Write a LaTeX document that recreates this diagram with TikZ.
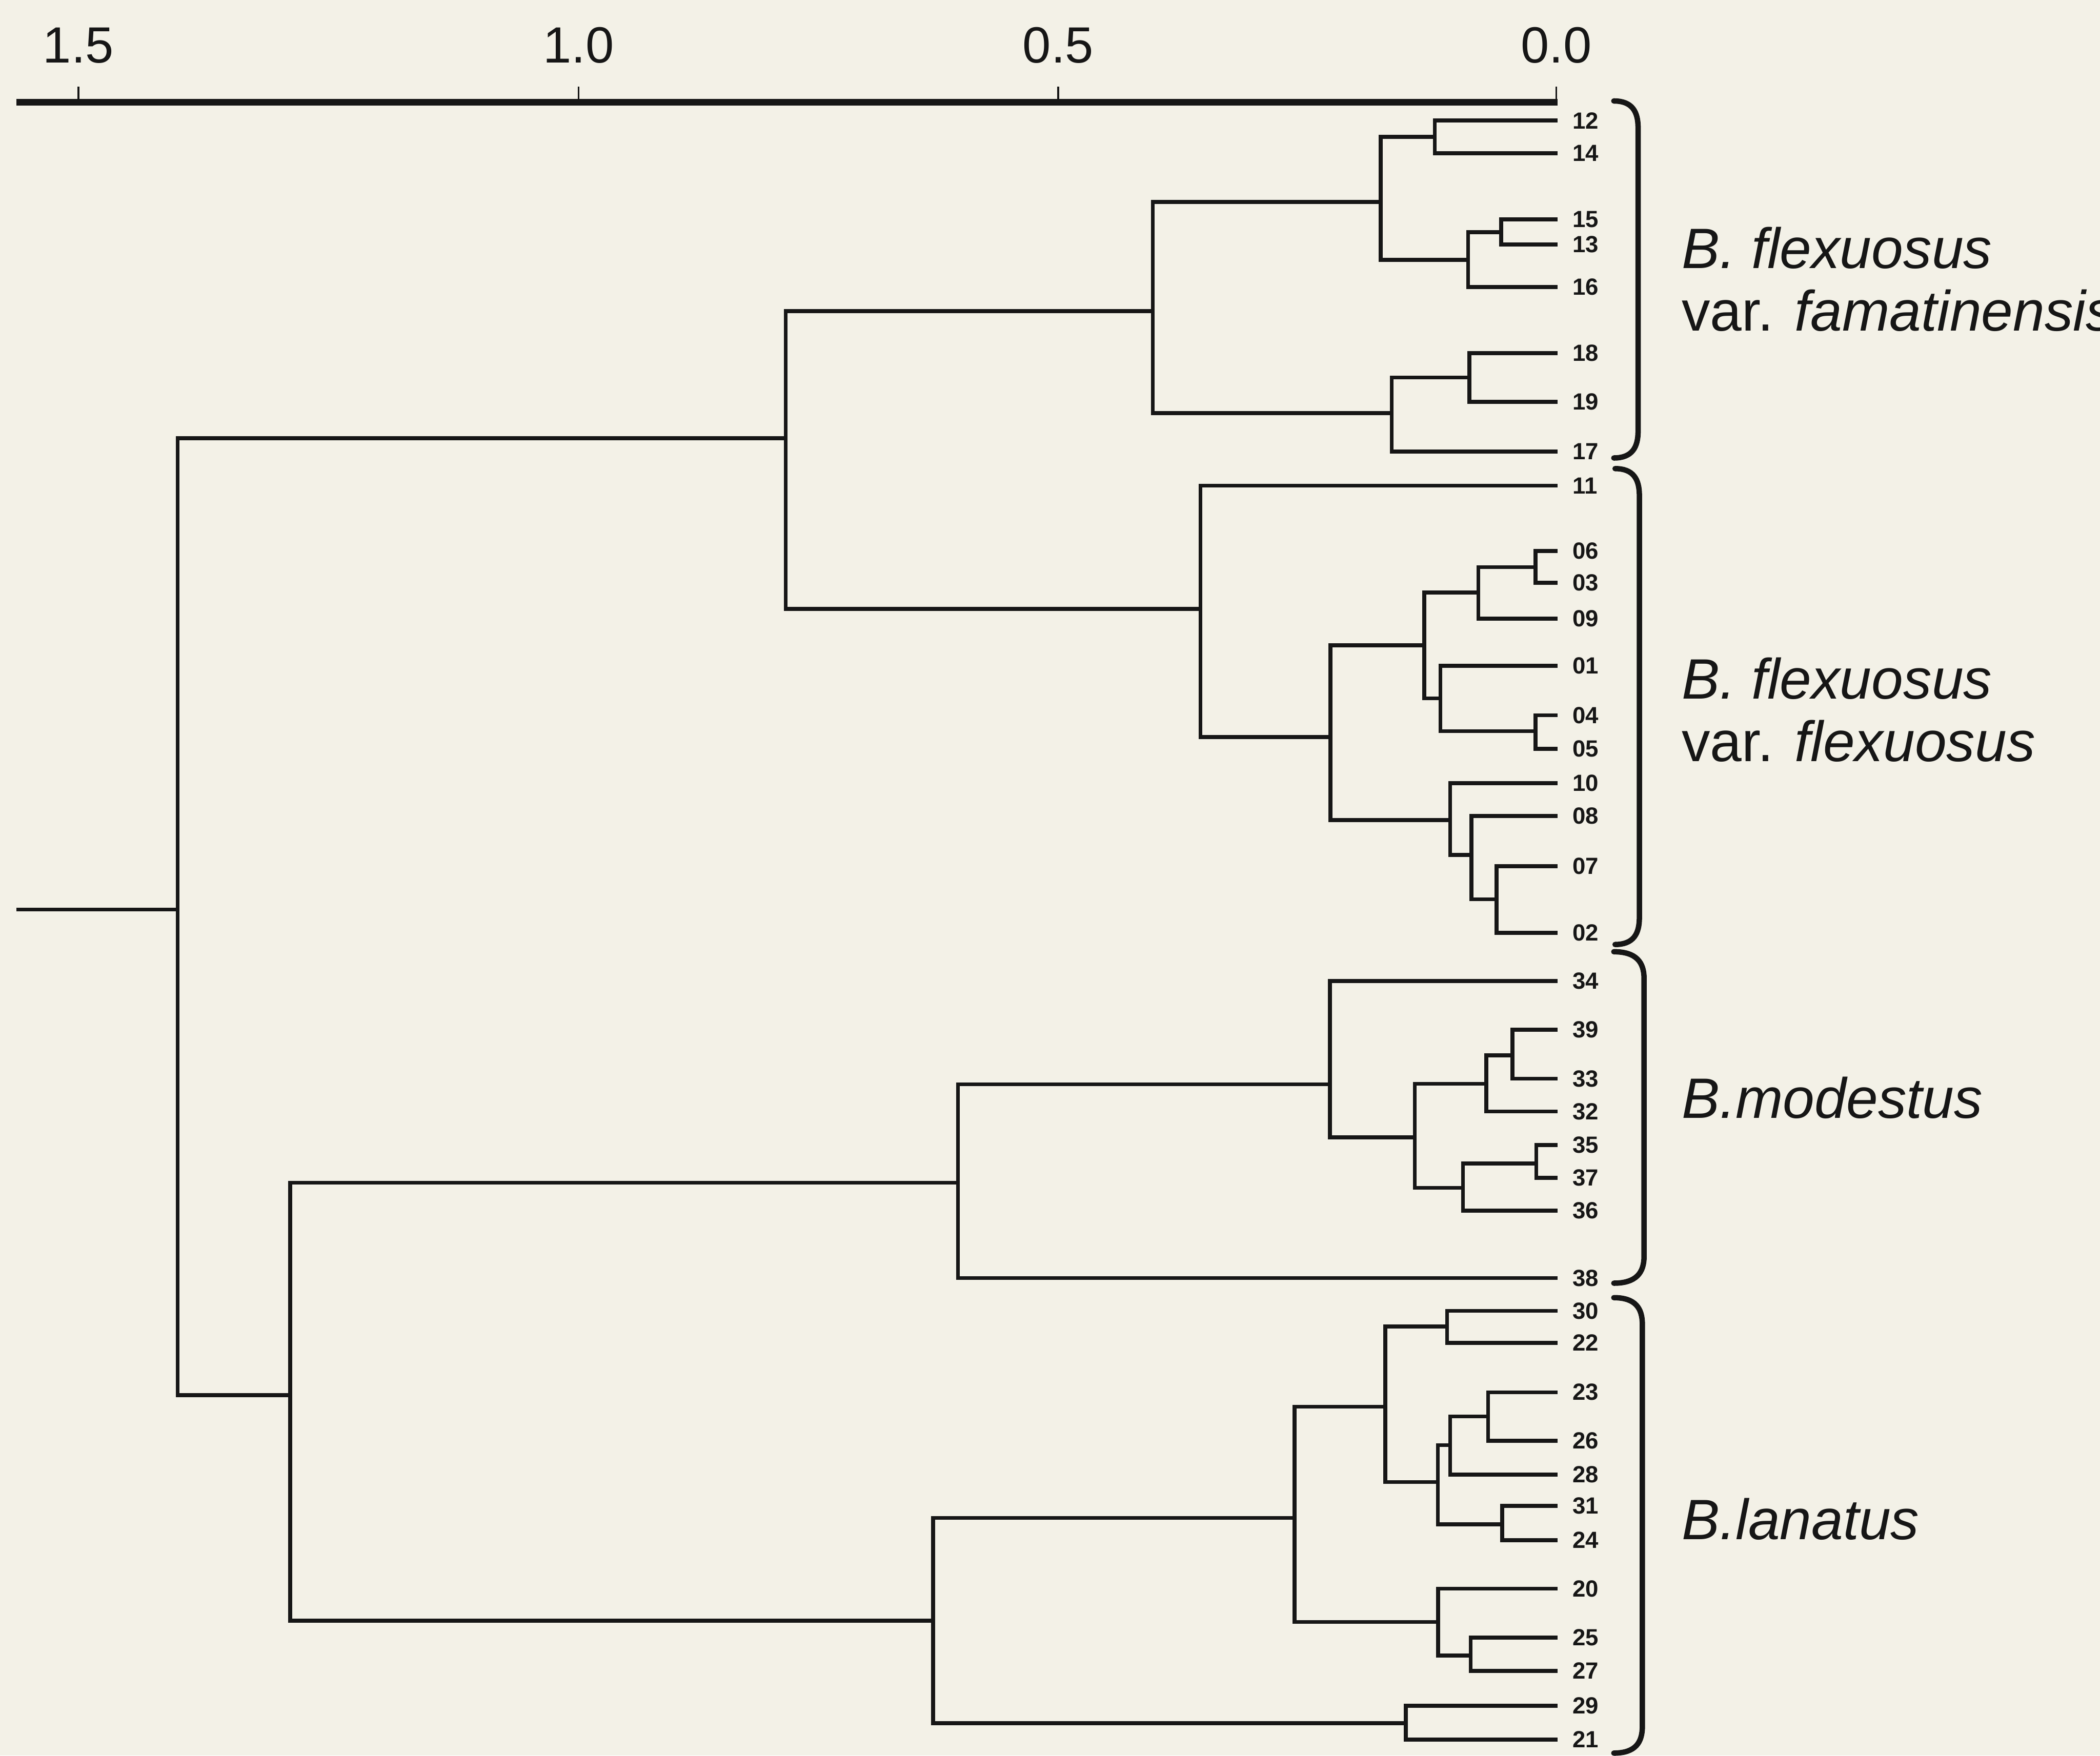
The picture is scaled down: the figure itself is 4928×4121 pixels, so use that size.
\documentclass[tikz,border=0pt]{standalone}
\usepackage{fontspec}
\setmainfont{Liberation Sans}
\definecolor{paper}{RGB}{243,241,231}
\definecolor{ink}{RGB}{22,22,22}
\tikzset{
  tree/.style={line width=2.6pt, draw=ink, line join=miter},
  axisline/.style={line width=4.2pt, draw=ink},
  tickline/.style={line width=1.2pt, draw=ink},
  bracket/.style={line width=3.6pt, draw=ink, line cap=round},
  leaflab/.style={anchor=west, inner sep=0pt, font=\fontsize{15.6}{18}\selectfont\bfseries, text=ink},
  ticklab/.style={anchor=base, inner sep=0pt, font=\fontsize{34}{40}\selectfont, text=ink},
  specieslab/.style={anchor=base west, inner sep=0pt, font=\fontsize{38}{42}\selectfont, text=ink},
}
\newcommand{\joinclade}[3]{\draw[tree] (#2) -- (#1 |- #2) -- (#1 |- #3) -- (#3);}
\begin{document}
\begin{tikzpicture}[x=0.01cm, y=-0.01cm]
\useasboundingbox (0,0) rectangle (4928,4121);
\fill[paper] (0,0) rectangle (4928,4121);
\clip (0,0) rectangle (4928,4121);

% axis
\coordinate (ax0) at (38,240);
\coordinate (ax1) at (3655,240);
\draw[axisline] (ax0) -- (ax1);
\foreach \nm/\x/\lab in {tk15/184/1.5, tk10/1358/1.0, tk05/2483/0.5, tk00/3652/0.0}{
  \coordinate (\nm) at (\x,240);
  \coordinate (\nm top) at (\x,203);
  \draw[tickline] (\nm) -- (\nm top);
  \node[ticklab] (\nm lab) at (\x,147) {\lab};
}

% leaves
\foreach \n/\y in {12/283,14/360,15/515,13/574,16/674,18/829,19/943,17/1060,
  11/1140,06/1293,03/1368,09/1452,01/1563,04/1679,05/1758,10/1838,08/1915,07/2033,02/2190,
  34/2303,39/2417,33/2532,32/2609,35/2688,37/2765,36/2842,38/3000,
  30/3077,22/3152,23/3268,26/3382,28/3461,31/3535,24/3615,20/3729,25/3844,27/3922,29/4004,21/4083}{
  \coordinate (l\n) at (3655,\y);
  \node[leaflab] (t\n) at (3690,\y) {\n};
}

% internal nodes (x = height, y = connector)
\coordinate (A) at (3367,321);
\coordinate (B) at (3523,545);
\coordinate (C) at (3445,610);
\coordinate (D) at (3240,474);
\coordinate (E) at (3448,886);
\coordinate (F) at (3266,970);
\coordinate (G) at (2705,730);
\coordinate (H1) at (3603,1331);
\coordinate (H2) at (3469,1391);
\coordinate (H3) at (3603,1716);
\coordinate (H4) at (3380,1639);
\coordinate (H5) at (3342,1515);
\coordinate (I1) at (3512,2111);
\coordinate (I2) at (3453,2007);
\coordinate (I3) at (3403,1925);
\coordinate (J) at (3122,1730);
\coordinate (K) at (2817,1429);
\coordinate (L) at (1844,1029);
\coordinate (M1) at (3549,2477);
\coordinate (M2) at (3488,2544);
\coordinate (M3) at (3605,2731);
\coordinate (M4) at (3433,2788);
\coordinate (M5) at (3320,2670);
\coordinate (M6) at (3121,2545);
\coordinate (M7) at (2248,2776);
\coordinate (N1) at (3396,3114);
\coordinate (N2) at (3492,3325);
\coordinate (N3) at (3403,3392);
\coordinate (N4) at (3525,3578);
\coordinate (N5) at (3374,3479);
\coordinate (N6) at (3251,3302);
\coordinate (N7) at (3451,3886);
\coordinate (N8) at (3375,3807);
\coordinate (N9) at (3038,3563);
\coordinate (N10) at (3299,4045);
\coordinate (N11) at (2190,3804);
\coordinate (O) at (681,3275);
\coordinate (R) at (417,2135);
\coordinate (stem) at (38,2135);

\joinclade{A}{l12}{l14}
\joinclade{B}{l15}{l13}
\joinclade{C}{B}{l16}
\joinclade{D}{A}{C}
\joinclade{E}{l18}{l19}
\joinclade{F}{E}{l17}
\joinclade{G}{D}{F}
\joinclade{H1}{l06}{l03}
\joinclade{H2}{H1}{l09}
\joinclade{H3}{l04}{l05}
\joinclade{H4}{l01}{H3}
\joinclade{H5}{H2}{H4}
\joinclade{I1}{l07}{l02}
\joinclade{I2}{l08}{I1}
\joinclade{I3}{l10}{I2}
\joinclade{J}{H5}{I3}
\joinclade{K}{l11}{J}
\joinclade{L}{G}{K}
\joinclade{M1}{l39}{l33}
\joinclade{M2}{M1}{l32}
\joinclade{M3}{l35}{l37}
\joinclade{M4}{M3}{l36}
\joinclade{M5}{M2}{M4}
\joinclade{M6}{l34}{M5}
\joinclade{M7}{M6}{l38}
\joinclade{N1}{l30}{l22}
\joinclade{N2}{l23}{l26}
\joinclade{N3}{N2}{l28}
\joinclade{N4}{l31}{l24}
\joinclade{N5}{N3}{N4}
\joinclade{N6}{N1}{N5}
\joinclade{N7}{l25}{l27}
\joinclade{N8}{l20}{N7}
\joinclade{N9}{N6}{N8}
\joinclade{N10}{l29}{l21}
\joinclade{N11}{N9}{N10}
\joinclade{O}{M7}{N11}
\joinclade{R}{L}{O}
\draw[tree] (stem) -- (R);

% brackets
\draw[bracket] (3787,237) .. controls (3830,237) and (3844,262) .. (3844,300) -- (3844,1012) .. controls (3844,1050) and (3830,1075) .. (3787,1075);
\draw[bracket] (3790,1100) .. controls (3833,1100) and (3847,1125) .. (3847,1163) -- (3847,2154) .. controls (3847,2192) and (3833,2217) .. (3790,2217);
\draw[bracket] (3787,2234) .. controls (3840,2234) and (3858,2259) .. (3858,2297) -- (3858,2949) .. controls (3858,2987) and (3840,3012) .. (3787,3012);
\draw[bracket] (3787,3046) .. controls (3838,3046) and (3854,3071) .. (3854,3109) -- (3854,4052) .. controls (3854,4090) and (3838,4115) .. (3787,4115);

% species labels
\node[specieslab] (s1a) at (3946,630) {\itshape B. flexuosus};
\node[specieslab] (s1b) at (3946,777) {var. \itshape famatinensis};
\node[specieslab] (s2a) at (3946,1640) {\itshape B. flexuosus};
\node[specieslab] (s2b) at (3946,1787) {var. \itshape flexuosus};
\node[specieslab] (s3) at (3946,2624) {\itshape B.modestus};
\node[specieslab] (s4) at (3946,3613) {\itshape B.lanatus};
\end{tikzpicture}
\end{document}
